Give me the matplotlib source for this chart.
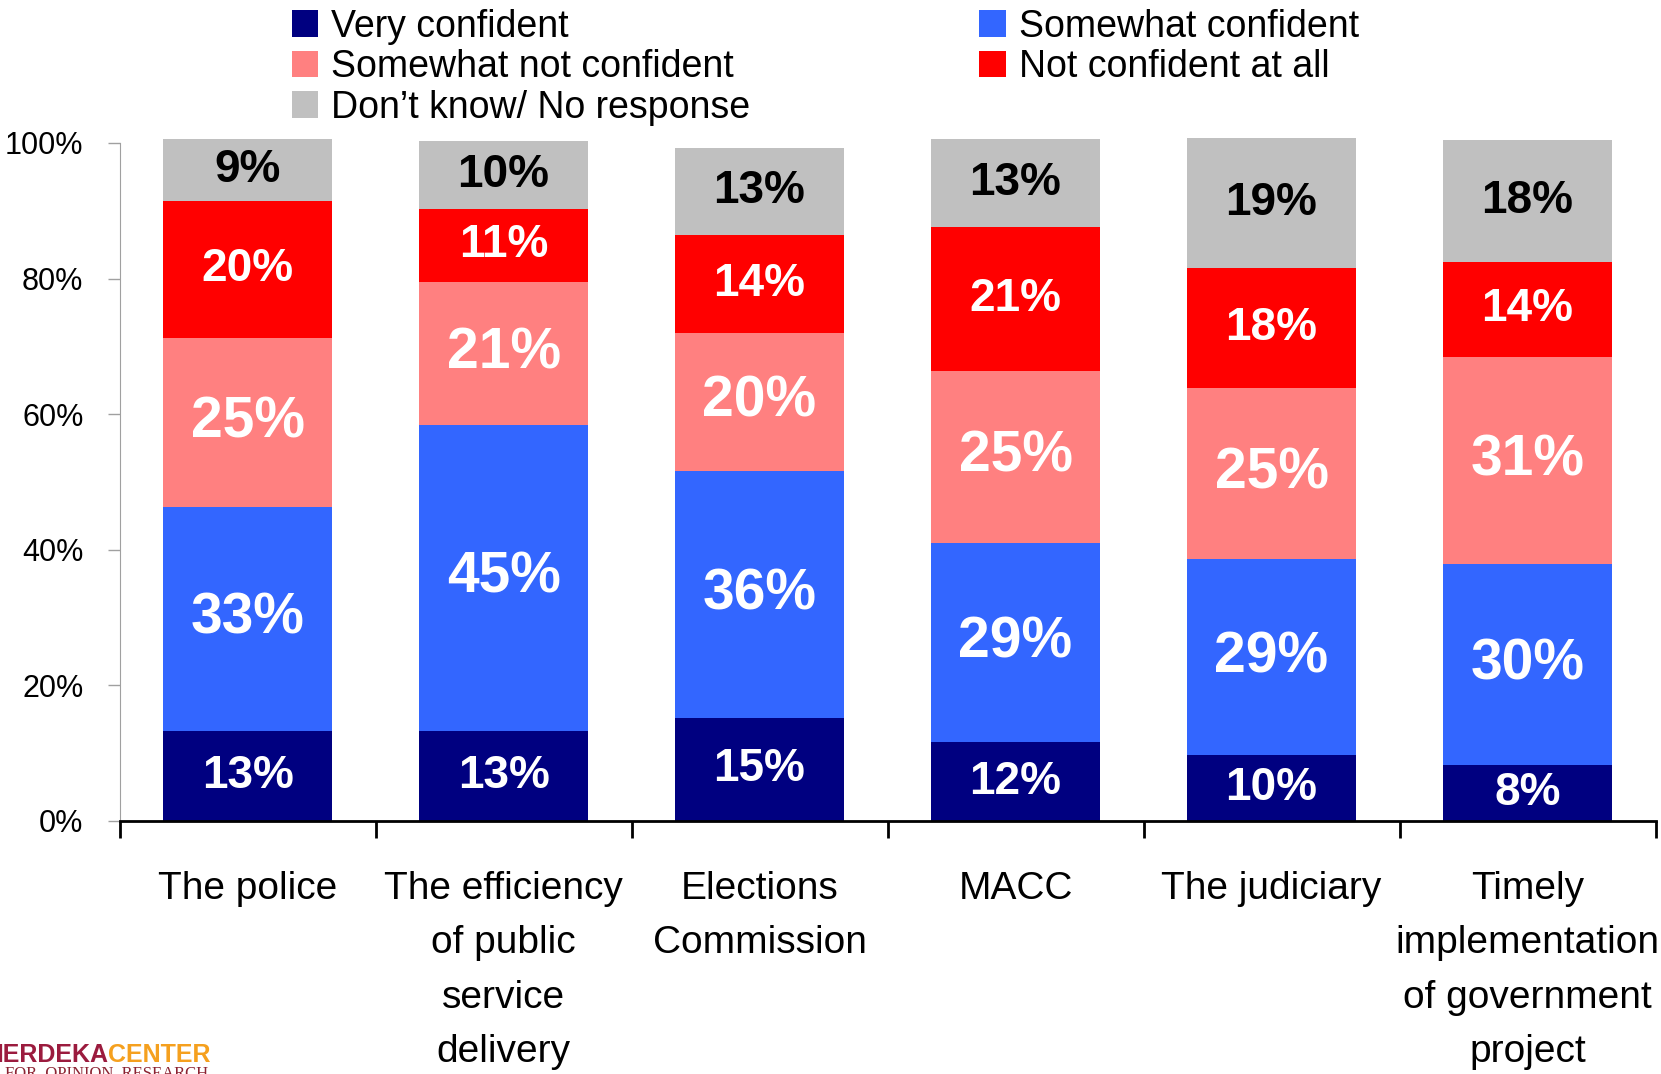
import numpy as np
import matplotlib.pyplot as plt
from matplotlib import font_manager

# fonts: narrow face for the bar labels if it is installed
names = set(f.name for f in font_manager.fontManager.ttflist)
narrow = 'Liberation Sans Narrow' if 'Liberation Sans Narrow' in names else 'Liberation Sans'
plt.rcParams['font.family'] = ['Liberation Sans', 'DejaVu Sans']

categories = ['The police', 'The efficiency\nof public\nservice\ndelivery',
              'Elections\nCommission', 'MACC', 'The judiciary',
              'Timely\nimplementation\nof government\nproject']
very = [13.3, 13.3, 15.2, 11.6, 9.7, 8.3]
somewhat = [33.0, 45.1, 36.4, 29.4, 28.9, 29.6]
not_very = [25.0, 21.1, 20.4, 25.4, 25.3, 30.6]
not_at_all = [20.2, 10.8, 14.4, 21.2, 17.6, 13.9]
dont_know = [9.1, 10.0, 12.9, 13.0, 19.2, 18.0]
yticks = [0, 20, 40, 60, 80, 100]

big, small = (47, 37) if narrow != 'Liberation Sans' else (41, 33)
series = [
    ('Very confident', very, '#000080', 'white', small),
    ('Somewhat confident', somewhat, '#3366FF', 'white', big),
    ('Somewhat not confident', not_very, '#FF8080', 'white', big),
    ('Not confident at all', not_at_all, '#FF0000', 'white', small),
    ('Don\u2019t know/ No response', dont_know, '#C0C0C0', 'black', small),
]

fig = plt.figure(figsize=(16.61, 10.74), dpi=100)
ax = fig.add_axes([0.072, 0.2356, 0.9247, 0.6313])

x = np.arange(len(categories))
bottom = np.zeros(len(categories))
bars = {}
for name, vals, col, tcol, fs in series:
    vals = np.array(vals)
    b = ax.bar(x, vals, 0.66, bottom=bottom, color=col, label=name, clip_on=False, zorder=2)
    bars[name] = b
    for xi, v, b0 in zip(x, vals, bottom):
        ax.text(xi, b0 + v / 2, '%d%%' % int(v + 0.5), ha='center', va='center',
                color=tcol, fontsize=fs, fontweight='bold', family=[narrow, 'DejaVu Sans'], zorder=3)
    bottom = bottom + vals

ax.set_xlim(-0.5, len(categories) - 0.5)
ax.set_ylim(0, 100)
ax.set_yticks(yticks)
ax.set_yticklabels(['%d%%' % t for t in yticks], fontsize=22)
ax.tick_params(axis='y', length=9, width=1, color='#A0A0A0', pad=17)
ax.set_xticks(x)
ax.set_xticklabels(categories, fontsize=28, linespacing=1.66, va='top')
ax.set_xticks(np.arange(len(categories) + 1) - 0.5, minor=True)
ax.tick_params(axis='x', which='major', length=0, pad=36)
ax.tick_params(axis='x', which='minor', length=12, width=2, color='black')
ax.spines['top'].set_visible(False)
ax.spines['right'].set_visible(False)
ax.spines['left'].set_color('#A0A0A0')
ax.spines['bottom'].set_linewidth(2)
ax.spines['bottom'].set_zorder(4)

order = ['Very confident', 'Somewhat not confident', 'Don\u2019t know/ No response',
         'Somewhat confident', 'Not confident at all']
leg = fig.legend([bars[n] for n in order], order, ncol=2, loc='upper left',
                 bbox_to_anchor=(0.1758, 0.992), frameon=False, fontsize=27,
                 handlelength=0.7, handleheight=0.7, handletextpad=0.35,
                 labelspacing=0.12, columnspacing=6.1, borderpad=0, borderaxespad=0)

# logo, cut off at the left and bottom edges
fig.text(108 / 1661, 1 - 1062 / 1074, 'MERDEKA', ha='right', va='baseline',
         fontsize=18, fontweight='bold', color='#9B1B3E', family=[narrow, 'DejaVu Sans'])
fig.text(108 / 1661, 1 - 1062 / 1074, 'CENTER', ha='left', va='baseline',
         fontsize=18, fontweight='bold', color='#F5A01E', family=[narrow, 'DejaVu Sans'])
fig.text(208 / 1661, 1 - 1066 / 1074, 'FOR  OPINION  RESEARCH', ha='right', va='top',
         fontsize=12, color='#8B2332', family='Liberation Serif')

plt.savefig('out.png', dpi=100)
